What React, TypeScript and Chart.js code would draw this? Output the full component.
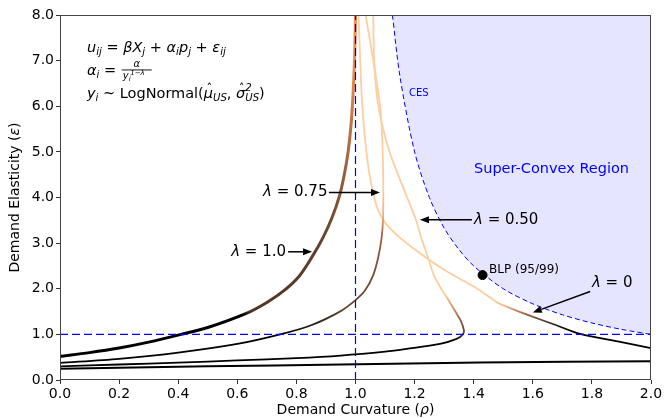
import { useEffect, useRef } from 'react';
import { Chart, registerables } from 'chart.js';
Chart.register(...registerables);

const xTicks = [0.0, 0.2, 0.4, 0.6, 0.8, 1.0, 1.2, 1.4, 1.6, 1.8, 2.0];
const yTicks = [0, 1, 2, 3, 4, 5, 6, 7, 8];

// lambda = 1.0
const lam1Rho = [0, 0.1, 0.2, 0.3, 0.41, 0.5, 0.63, 0.7, 0.76, 0.81, 0.855, 0.89, 0.92, 0.945, 0.962, 0.975, 0.985, 0.992, 0.997, 1.0];
const lam1Eps = [0.52, 0.6, 0.7, 0.83, 1.0, 1.15, 1.46, 1.7, 1.97, 2.28, 2.72, 3.12, 3.55, 4.02, 4.5, 5.0, 5.6, 6.3, 7.1, 8.0];
// lambda = 0.75
const lam75Rho = [0, 0.2, 0.4, 0.6, 0.745, 0.85, 0.95, 1.0, 1.032, 1.06, 1.077, 1.088, 1.093, 1.094, 1.092, 1.085, 1.07, 1.05, 1.034];
const lam75Eps = [0.375, 0.465, 0.6, 0.79, 1.0, 1.2, 1.51, 1.75, 1.96, 2.3, 2.69, 3.1, 3.5, 4.1, 5.0, 5.9, 6.6, 7.4, 8.0];
// lambda = 0.50
const lam50Rho = [0, 0.2, 0.4, 0.6, 0.8, 0.95, 1.1, 1.173, 1.286, 1.342, 1.362, 1.367, 1.356, 1.338, 1.315, 1.29, 1.265, 1.245, 1.225, 1.205, 1.175, 1.15, 1.115, 1.09, 1.073, 1.063, 1.06];
const lam50Eps = [0.30, 0.34, 0.38, 0.43, 0.48, 0.535, 0.62, 0.68, 0.79, 0.9, 0.99, 1.085, 1.3, 1.5, 1.75, 2.0, 2.3, 2.7, 3.06, 3.5, 4.0, 4.4, 5.0, 5.6, 6.2, 7.0, 8.0];
// lambda = 0 (upper branch)
const lam0Rho = [2.0, 1.9, 1.76, 1.68, 1.59, 1.53, 1.48, 1.44, 1.40, 1.33, 1.28, 1.218, 1.15, 1.1, 1.075, 1.06, 1.045, 1.032, 1.022, 1.016, 1.01];
const lam0Eps = [0.70, 0.83, 1.01, 1.2, 1.41, 1.56, 1.7, 1.88, 2.05, 2.3, 2.5, 2.78, 3.12, 3.45, 3.75, 4.1, 4.6, 5.3, 6.1, 7.0, 8.0];
// lambda = 0 (lower branch)
const lam0LowRho = [0, 0.2, 0.5, 0.95, 1.42, 2.0];
const lam0LowEps = [0.245, 0.27, 0.3, 0.34, 0.385, 0.41];
// CES boundary
const cesRho = [1.125, 1.15, 1.2, 1.25, 1.3, 1.35, 1.4, 1.5, 1.6, 1.7, 1.8, 1.9, 2.0];
const cesEps = [8.0, 6.67, 5.0, 4.0, 3.33, 2.86, 2.5, 2.0, 1.67, 1.43, 1.25, 1.11, 1.0];
// BLP estimate
const blpRho = [1.43];
const blpEps = [2.3];

const zip = (xs: number[], ys: number[]) => xs.map((x, i) => ({ x, y: ys[i] }));

const FONT = '"DejaVu Sans", "Liberation Sans", sans-serif';
const PEACH = 'rgb(253,206,160)';

const STOPS_L1: [number, string][] = [[0, '#000'], [1.42, '#000'], [1.5, 'rgb(80,52,36)'], [3.0, 'rgb(100,65,45)'], [4.5, 'rgb(150,95,60)'], [5.6, 'rgb(190,115,70)'], [6.5, 'rgb(225,135,75)'], [8, 'rgb(235,145,85)']];
const STOPS_L75: [number, string][] = [[0, '#000'], [1.0, '#000'], [1.5, 'rgb(95,65,45)'], [2.5, 'rgb(125,82,55)'], [3.2, 'rgb(160,100,65)'], [3.6, 'rgb(240,175,125)'], [4.2, PEACH], [8, PEACH]];
const STOPS_L50: [number, string][] = [[0, '#000'], [0.85, '#000'], [1.0, 'rgb(90,60,40)'], [1.3, 'rgb(140,90,60)'], [1.6, 'rgb(220,150,100)'], [1.9, PEACH], [8, PEACH]];
const STOPS_L0: [number, string][] = [[0, '#000'], [1.1, '#000'], [1.3, 'rgb(90,60,40)'], [1.45, 'rgb(160,100,65)'], [1.6, 'rgb(240,175,125)'], [1.75, PEACH], [8, PEACH]];

function grad(chart: any, stops: [number, string][]) {
  const { ctx, chartArea, scales } = chart;
  if (!chartArea || !scales.y) return '#000';
  const y0 = scales.y.getPixelForValue(0);
  const y1 = scales.y.getPixelForValue(8);
  const g = ctx.createLinearGradient(0, y0, 0, y1);
  for (const [e, c] of stops) g.addColorStop(Math.min(1, Math.max(0, e / 8)), c);
  return g;
}

type Run = { t: string; it?: boolean; s?: number; dy?: number; stackTop?: string; hat?: boolean };

function drawRuns(ctx: CanvasRenderingContext2D, x: number, y: number, runs: Run[], size: number) {
  let cx = x;
  for (const r of runs) {
    const sz = size * (r.s ?? 1);
    ctx.font = `${r.it ? 'italic ' : ''}${sz}px ${FONT}`;
    const w = ctx.measureText(r.t).width;
    ctx.fillText(r.t, cx, y + (r.dy ?? 0));
    if (r.hat) {
      ctx.font = `${sz * 0.8}px ${FONT}`;
      ctx.textAlign = 'center';
      ctx.fillText('ˆ', cx + w / 2 + 1, y + (r.dy ?? 0) - sz * 0.32);
      ctx.textAlign = 'left';
    }
    let adv = w;
    if (r.stackTop) {
      ctx.font = `${r.it ? 'italic ' : ''}${sz}px ${FONT}`;
      ctx.fillText(r.stackTop, cx, y - size * 0.45);
      adv = Math.max(w, ctx.measureText(r.stackTop).width);
    }
    cx += adv;
  }
  return cx;
}

function arrow(ctx: CanvasRenderingContext2D, x1: number, y1: number, x2: number, y2: number) {
  const ang = Math.atan2(y2 - y1, x2 - x1);
  const hl = 9, hw = 3.5;
  const bx = x2 - hl * Math.cos(ang), by = y2 - hl * Math.sin(ang);
  ctx.strokeStyle = '#000';
  ctx.fillStyle = '#000';
  ctx.lineWidth = 1.5;
  ctx.beginPath();
  ctx.moveTo(x1, y1);
  ctx.lineTo(bx, by);
  ctx.stroke();
  ctx.beginPath();
  ctx.moveTo(x2, y2);
  ctx.lineTo(bx + hw * Math.sin(ang), by - hw * Math.cos(ang));
  ctx.lineTo(bx - hw * Math.sin(ang), by + hw * Math.cos(ang));
  ctx.closePath();
  ctx.fill();
}

const annotationPlugin = {
  id: 'annot',
  afterDatasetsDraw(chart: any) {
    const { ctx, chartArea, scales } = chart;
    const X = (v: number) => scales.x.getPixelForValue(v);
    const Y = (v: number) => scales.y.getPixelForValue(v);
    ctx.save();
    ctx.fillStyle = '#000';
    ctx.textAlign = 'left';

    // equations
    const L = chartArea.left + 27;
    ctx.textBaseline = 'alphabetic';
    drawRuns(ctx, L, chartArea.top + 37, [
      { t: 'u', it: true }, { t: 'ij', it: true, s: 0.7, dy: 3 }, { t: ' = ' },
      { t: 'βX', it: true }, { t: 'j', it: true, s: 0.7, dy: 3 }, { t: ' + ' },
      { t: 'α', it: true }, { t: 'i', it: true, s: 0.7, dy: 3 }, { t: 'p', it: true }, { t: 'j', it: true, s: 0.7, dy: 3 },
      { t: ' + ' }, { t: 'ε', it: true }, { t: 'ij', it: true, s: 0.7, dy: 3 },
    ], 14.5);
    const e2 = drawRuns(ctx, L, chartArea.top + 60, [
      { t: 'α', it: true }, { t: 'i', it: true, s: 0.7, dy: 3 }, { t: ' = ' },
    ], 14.5);
    // fraction
    const fx = e2 + 1;
    const denW = 30;
    ctx.font = `italic 10px ${FONT}`;
    ctx.textAlign = 'center';
    ctx.fillText('α', fx + denW / 2, chartArea.top + 52);
    ctx.textAlign = 'left';
    ctx.fillRect(fx, chartArea.top + 54.5, denW, 0.9);
    ctx.font = `italic 10px ${FONT}`;
    ctx.fillText('y', fx + 1, chartArea.top + 64);
    ctx.font = `italic 7px ${FONT}`;
    ctx.fillText('i', fx + 7, chartArea.top + 66);
    ctx.fillText('1−λ', fx + 8.5, chartArea.top + 60);

    drawRuns(ctx, L, chartArea.top + 83, [
      { t: 'y', it: true }, { t: 'i', it: true, s: 0.7, dy: 3 }, { t: ' ~ LogNormal(' },
      { t: 'μ', it: true, hat: true }, { t: 'US', it: true, s: 0.7, dy: 3 }, { t: ', ' },
      { t: 'σ', it: true, hat: true }, { t: 'US', it: true, s: 0.7, dy: 3, stackTop: '2' }, { t: ')' },
    ], 14.5);

    ctx.textBaseline = 'middle';
    // lambda labels and arrows
    const lab = (txt: string, xr: number, yv: number, align: 'left' | 'right') => {
      ctx.font = `15px ${FONT}`;
      const rest = ' = ' + txt;
      const w2 = ctx.measureText(rest).width;
      ctx.font = `italic 15px ${FONT}`;
      const w1 = ctx.measureText('λ').width;
      const x0 = align === 'left' ? X(xr) : X(xr) - w1 - w2;
      ctx.fillStyle = '#000';
      ctx.fillText('λ', x0, Y(yv));
      ctx.font = `15px ${FONT}`;
      ctx.fillText(rest, x0 + w1, Y(yv));
    };
    lab('0.75', 0.905, 4.11, 'right');
    arrow(ctx, X(0.91), Y(4.11), X(1.083), Y(4.11));
    lab('0.50', 1.401, 3.51, 'left');
    arrow(ctx, X(1.394), Y(3.51), X(1.218), Y(3.51));
    lab('1.0', 0.765, 2.81, 'right');
    arrow(ctx, X(0.772), Y(2.81), X(0.853), Y(2.81));
    lab('0', 1.80, 2.12, 'left');
    arrow(ctx, X(1.794), Y(1.94), X(1.60), Y(1.48));

    // BLP label
    ctx.font = `12px ${FONT}`;
    ctx.fillStyle = '#000';
    ctx.fillText('BLP (95/99)', X(1.452), Y(2.42));
    // CES label
    ctx.fillStyle = '#0000ff';
    ctx.font = `10px ${FONT}`;
    ctx.fillText('CES', X(1.181), Y(6.28));
    ctx.font = `14.5px ${FONT}`;
    ctx.fillText('Super-Convex Region', X(1.401), Y(4.61));
    ctx.restore();
  },
  afterDraw(chart: any) {
    const { ctx, chartArea } = chart;
    ctx.save();
    // frame
    ctx.strokeStyle = '#444';
    ctx.lineWidth = 1;
    const l = Math.round(chartArea.left) + 0.5, t = Math.round(chartArea.top) + 0.5;
    const r = Math.round(chartArea.right) - 0.5, b = Math.round(chartArea.bottom) - 0.5;
    ctx.strokeRect(l, t, r - l, b - t);
    // axis titles
    ctx.fillStyle = '#000';
    ctx.textBaseline = 'middle';
    const drawTitle = (prefix: string, sym: string, cx: number, cy: number) => {
      ctx.font = `14px ${FONT}`;
      const a = ctx.measureText(prefix + '(').width;
      const c = ctx.measureText(')').width;
      ctx.font = `italic 14px ${FONT}`;
      const s = ctx.measureText(sym).width;
      let x = cx - (a + s + c) / 2;
      ctx.font = `14px ${FONT}`;
      ctx.fillText(prefix + '(', x, cy);
      x += a;
      ctx.font = `italic 14px ${FONT}`;
      ctx.fillText(sym, x, cy);
      x += s;
      ctx.font = `14px ${FONT}`;
      ctx.fillText(')', x, cy);
    };
    ctx.textAlign = 'left';
    drawTitle('Demand Curvature ', 'ρ', (chartArea.left + chartArea.right) / 2, 410);
    ctx.translate(15, (chartArea.top + chartArea.bottom) / 2);
    ctx.rotate(-Math.PI / 2);
    drawTitle('Demand Elasticity ', 'ε', 0, 0);
    ctx.restore();
  },
};

export default function App() {
  const ref = useRef<HTMLCanvasElement | null>(null);
  useEffect(() => {
    if (!ref.current) return;
    const curve = (data: any[], stops: [number, string][], width: number) => ({
      type: 'scatter' as const,
      data,
      showLine: true,
      fill: false,
      tension: 0.3,
      pointRadius: 0,
      borderWidth: width,
      borderColor: (c: any) => grad(c.chart, stops),
      borderCapStyle: 'round' as const,
      borderJoinStyle: 'round' as const,
    });
    const chart = new Chart(ref.current, {
      type: 'scatter',
      data: {
        datasets: [
          {
            data: zip(blpRho, blpEps),
            pointRadius: 4.5,
            pointBackgroundColor: '#000',
            pointBorderColor: '#000',
            showLine: false,
          } as any,
          {
            data: [{ x: 0, y: 1 }, { x: 2, y: 1 }],
            showLine: true, pointRadius: 0, borderColor: '#0000ff', borderWidth: 1.2, borderDash: [8, 4],
          },
          {
            data: [{ x: 1, y: 0 }, { x: 1, y: 8 }],
            showLine: true, pointRadius: 0, borderColor: '#0000ff', borderWidth: 1.2, borderDash: [8, 4],
          },
          curve(zip(lam1Rho, lam1Eps), STOPS_L1, 3),
          curve(zip(lam75Rho, lam75Eps), STOPS_L75, 1.8),
          curve(zip(lam50Rho, lam50Eps), STOPS_L50, 1.8),
          curve(zip(lam0Rho, lam0Eps), STOPS_L0, 1.8),
          curve(zip(lam0LowRho, lam0LowEps), [[0, '#000'], [8, '#000']], 2),
          {
            data: zip(cesRho, cesEps),
            showLine: true, pointRadius: 0, borderColor: '#0000ff', borderWidth: 1, borderDash: [5, 3],
            fill: 'end', backgroundColor: 'rgba(0,0,255,0.1)', tension: 0.3,
          } as any,
        ],
      },
      options: {
        animation: false,
        responsive: false,
        events: [],
        layout: { padding: { left: 0, top: 15, right: 15, bottom: 0 } },
        plugins: { legend: { display: false }, tooltip: { enabled: false } },
        scales: {
          x: {
            type: 'linear', min: 0, max: 2,
            afterBuildTicks: (s: any) => { s.ticks = xTicks.map((v) => ({ value: v })); },
            afterFit: (s: any) => { s.height = 38; },
            ticks: { callback: (v: any) => Number(v).toFixed(1), font: { family: FONT, size: 14 }, color: '#000', padding: 2, maxRotation: 0, autoSkip: false },
            grid: { display: true, drawOnChartArea: false, drawTicks: true, tickLength: 4, color: '#333' },
            border: { display: false },
          },
          y: {
            type: 'linear', min: 0, max: 8,
            afterBuildTicks: (s: any) => { s.ticks = yTicks.map((v) => ({ value: v })); },
            afterFit: (s: any) => { s.width = 60; },
            ticks: { callback: (v: any) => Number(v).toFixed(1), font: { family: FONT, size: 14 }, color: '#000', padding: 2, autoSkip: false },
            grid: { display: true, drawOnChartArea: false, drawTicks: true, tickLength: 4, color: '#333' },
            border: { display: false },
          },
        },
      },
      plugins: [annotationPlugin],
    } as any);
    return () => chart.destroy();
  }, []);
  return (
    <div style={{ position: 'fixed', left: 0, top: 0, width: 666, height: 418, background: '#fff' }}>
      <canvas ref={ref} width={666} height={418} style={{ width: 666, height: 418 }} />
    </div>
  );
}
